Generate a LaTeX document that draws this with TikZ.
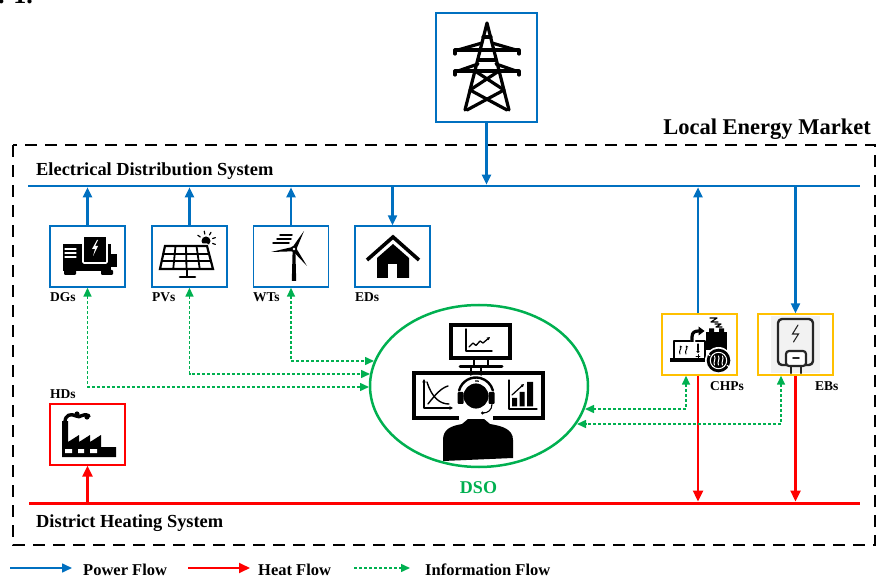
\documentclass[tikz,border=0pt]{standalone}
\usepackage{fontspec}
\setmainfont{Liberation Serif}
\usetikzlibrary{arrows.meta,calc,shapes.geometric}

\definecolor{powerblue}{HTML}{0070C0}
\definecolor{heatred}{HTML}{FF0000}
\definecolor{infogreen}{HTML}{00B050}
\definecolor{chpgold}{HTML}{FFC000}

\tikzset{
  unitbox/.style={minimum width=75pt, minimum height=61pt, inner sep=0pt, line width=1.4pt},
  elecbox/.style={unitbox, draw=powerblue},
  heatbox/.style={unitbox, draw=heatred},
  cogenbox/.style={unitbox, draw=chpgold},
  powerline/.style={draw=powerblue, line width=2.2pt, -{Triangle[length=10pt,width=9pt]}},
  heatline/.style={draw=heatred, line width=2.4pt, -{Triangle[length=11pt,width=10pt]}},
  infotips/.style={{Triangle[length=9pt,width=8pt]}-{Triangle[length=9pt,width=8pt]}},
  infoline/.style={draw=infogreen, line width=1.5pt, dash pattern=on 3pt off 2pt},
  unitlabel/.style={font=\fontsize{13.5}{15}\selectfont\bfseries, inner sep=0pt, anchor=base west},
  syslabel/.style={font=\fontsize{18.4}{20}\selectfont\bfseries, inner sep=0pt, anchor=base west},
  keylabel/.style={font=\fontsize{16.5}{18}\selectfont\bfseries, inner sep=0pt, anchor=base west},
  glyph/.style={line join=round, line cap=round}
}

\begin{document}
\begin{tikzpicture}[x=1pt, y=-1pt]
\useasboundingbox (0,0) rectangle (876,577);

% caption fragment along the top edge
\node[font=\fontsize{26}{28}\selectfont\bfseries, inner sep=0pt, anchor=base east] (figref) at (33,3.5) {Fig. 1.};

% ---------- market boundary ----------
\draw[line width=1.8pt, dash pattern=on 12pt off 8pt] (13,145) rectangle (875,545);
\node[font=\fontsize{22.5}{24}\selectfont\bfseries, inner sep=0pt, anchor=base east] (lemlabel) at (871,135) {Local Energy Market};

% ---------- buses ----------
\coordinate (eL) at (28,186);
\coordinate (eR) at (860,186);
\coordinate (hL) at (29,503);
\coordinate (hR) at (860,503);
\draw[powerblue, line width=2.6pt] (eL) -- (eR);
\draw[heatred, line width=3pt] (hL) -- (hR);
\node[syslabel] (edslabel) at (36,176) {Electrical Distribution System};
\node[syslabel] (dhslabel) at (36,527) {District Heating System};

% ---------- unit boxes ----------
\node[elecbox, minimum width=101pt, minimum height=109pt, line width=1.2pt] (tower) at (486.5,67.5) {};
\node[elecbox] (dg) at (87.5,256.5) {};
\node[elecbox] (pv) at (189.5,256.5) {};
\node[elecbox] (wt) at (291,256.5) {};
\node[elecbox] (ed) at (392.5,256.5) {};
\node[cogenbox] (chp) at (699.5,344.5) {};
\node[cogenbox] (eb) at (795.5,344.5) {};
\node[heatbox] (hd) at (87.5,434.5) {};

\node[unitlabel] (dglabel) at (50,302) {DGs};
\node[unitlabel] (pvlabel) at (152,302) {PVs};
\node[unitlabel] (wtlabel) at (253,302) {WTs};
\node[unitlabel] (edlabel) at (355,302) {EDs};
\node[unitlabel] (hdlabel) at (50,399) {HDs};
\node[unitlabel] (chplabel) at (710,391) {CHPs};
\node[unitlabel] (eblabel) at (815,391) {EBs};

% ---------- DSO ----------
\node[draw=infogreen, line width=2.5pt, ellipse, minimum width=218pt, minimum height=162pt, inner sep=0pt] (dso) at (479,386) {};
\node[font=\fontsize{18}{20}\selectfont\bfseries, text=infogreen, inner sep=0pt, anchor=base] (dsolabel) at (478.5,493) {DSO};

% ---------- power flows ----------
\draw[powerline, shorten >=1.3pt] (tower.south) -- (tower.south |- eL);
\draw[powerline, shorten >=1.3pt] (dg.north) -- (dg.north |- eL);
\draw[powerline, shorten >=1.3pt] (pv.north) -- (pv.north |- eL);
\draw[powerline, shorten >=1.3pt] (wt.north) -- (wt.north |- eL);
\draw[powerline] (ed.north |- eL) -- (ed.north);
\draw[powerline, shorten >=1.3pt] ([xshift=-1.5pt]chp.north) -- ([xshift=-1.5pt]chp.north |- eL);
\draw[powerline] (eb.north |- eL) -- (eb.north);

% ---------- heat flows ----------
\draw[heatline, shorten >=1.5pt] ([xshift=-1.5pt]chp.south) -- ([xshift=-1.5pt]chp.south |- hL);
\draw[heatline, shorten >=1.5pt] (eb.south) -- (eb.south |- hL);
\draw[heatline] (hd.south |- hL) -- (hd.south);

% ---------- information flows ----------
\coordinate (dsoDG) at (369,387);
\coordinate (dsoPV) at (370,374);
\coordinate (dsoWT) at (374,361);
\coordinate (dsoCHP) at (585,409);
\coordinate (dsoEB) at (577,424);
\draw[infoline, infotips] (dg.south) -- (dg.south |- dsoDG) -- (dsoDG);
\draw[infoline, infotips] (pv.south) -- (pv.south |- dsoPV) -- (dsoPV);
\draw[infoline, infotips] (wt.south) -- (wt.south |- dsoWT) -- (dsoWT);
\draw[infoline, infotips] ([xshift=-13.5pt]chp.south) -- ([xshift=-13.5pt]chp.south |- dsoCHP) -- (dsoCHP);
\draw[infoline, infotips] ([xshift=-14.5pt]eb.south) -- ([xshift=-14.5pt]eb.south |- dsoEB) -- (dsoEB);

% ================= icons =================
% transmission tower
\begin{scope}[glyph, line width=3.2pt]
  \draw (465,110) -- (487,23) -- (509,110);
  \draw (483,37) -- (491,37);
  \draw (455,54) -- (455,50) -- (519,50) -- (519,54);
  \draw (458,50) -- (482,43);  \draw (516,50) -- (492,43);
  \draw (478,60) -- (496,60);
  \draw (455,75) -- (455,71) -- (519,71) -- (519,75);
  \draw (458,71) -- (478,64);  \draw (516,71) -- (496,64);
  \draw (475,71) -- (504,90) -- (467,110);
  \draw (499,71) -- (470,90) -- (507,110);
\end{scope}

% diesel generator
\begin{scope}[glyph]
  \fill (63,244) rectangle (111,271);
  \fill (110,254) rectangle (117,267);
  \fill[rounded corners=1pt] (64,270) rectangle (76,275);
  \fill[rounded corners=1pt] (101,270) rectangle (113,275);
  \draw[white, line width=1.2pt] (65,249) -- (76,249) (65,253) -- (76,253) (65,257) -- (76,257);
  \filldraw[draw=white, line width=1.6pt, rounded corners=1pt] (83,236) rectangle (107,263);
  \fill[white] (97,240) -- (92,249) -- (95,249) -- (93,256) -- (98,246) -- (95,246) -- (98,240) -- cycle;
\end{scope}

% solar panel with sun
\begin{scope}[glyph]
  \fill (206,241) circle (4.5);
  \foreach \a in {20,-20,-60,-100,-145}
    \draw[line width=1.2pt] ($(206,241)+(\a:7)$) -- ($(206,241)+(\a:10)$);
  \draw[white, line width=5pt] (165,246) -- (207,246) -- (213,269) -- (160,269) -- cycle;
  \filldraw[fill=white, line width=2.2pt, line join=miter] (165,246) -- (207,246) -- (213,269) -- (160,269) -- cycle;
  \draw[line width=1.8pt] (163.3,253.7) -- (209,253.7) (161.7,261.3) -- (211,261.3);
  \draw[line width=1.8pt] (175.5,246) -- (173.25,269) (186,246) -- (186.5,269) (196.5,246) -- (199.75,269);
  \draw[line width=2.6pt, line cap=butt] (187,269) -- (187,277);
  \draw[line width=2.6pt] (180,277) -- (195,277);
\end{scope}

% wind turbine
\begin{scope}[glyph]
  \coordinate (hub) at (294,249);
  \fill (292.6,251) -- (295.4,251) -- (296.2,281) -- (291.8,281) -- cycle;
  \foreach \tip in {(304,231),(271,252),(307,266)}
    \fill ($(hub)!2.3pt!90:\tip$) -- \tip -- ($(hub)!2.3pt!-90:\tip$) -- cycle;
  \fill (hub) circle (3.2);
  \fill[white] (hub) circle (1.4);
  \draw[line width=1.5pt] (280,235) -- (292,235) (277,239) -- (291,239) (273,243) -- (289,243);
\end{scope}

% dwelling
\begin{scope}[glyph]
  \draw[line width=3.6pt, line join=miter, line cap=butt] (367,260) -- (393,237) -- (419,260);
  \fill (377,258) -- (393,244) -- (409,258) -- (409,278) -- (377,278) -- cycle;
  \fill[white] (388,264) rectangle (397,278.5);
\end{scope}

% factory
\begin{scope}[glyph]
  \fill (62,457) -- (62,421) -- (68,421) -- (68,442) -- (79,435) -- (79,442) -- (90,435) -- (90,442)
        -- (101,435) -- (101,447) -- (116,447) -- (116,457) -- cycle;
  \draw[line width=3.4pt] (65,422) .. controls (65,415) and (71,413) .. (76,416)
        .. controls (80,419) and (83,412) .. (89,416);
  \fill (77,414) circle (2.6);
  \fill (87,417) circle (2.6);
  \fill[white] (65,449) rectangle (72,453) (78,449) rectangle (84,453) (90,449) rectangle (97,453);
\end{scope}

% combined heat and power unit
\begin{scope}[glyph]
  \draw[line width=2.4pt] (674,359) -- (674,341) -- (690,341);
  \draw[line width=2.4pt] (696,341) -- (705,341) -- (705,359);
  \draw[line width=3.2pt, line cap=butt] (670,360) -- (709,360);
  \draw[line width=3.2pt, line cap=butt] (692,342) -- (692,337) .. controls (692,332) and (695,331) .. (699,331);
  \fill (698.5,326.5) -- (704.5,331) -- (698.5,335.5) -- cycle;
  \fill (706,332) rectangle (727,350);
  \fill (709,328.5) rectangle (714,332.5) (719,328.5) rectangle (724,332.5);
  \draw[line width=1.2pt] (710,318) -- (717,318) -- (711,322) -- (718,322);
  \draw[line width=1.2pt] (715,324) -- (721,324) -- (716,327) -- (722,327);
  \foreach \x in {680,686}
    \draw[line width=1pt, -{Stealth[length=2.5pt,width=2.8pt]}] (\x,354) .. controls (\x-1.8,351) and (\x+1.8,349) .. (\x,345.5);
  \draw[line width=1.2pt] (698,344) -- (698,350);
  \fill (698,351.5) circle (1.7);
  \draw[line width=0.9pt] (696,356.5) -- (700,356.5) (698,354.5) -- (698,358.5);
  \fill[white] (718.5,360.5) circle (13.5);
  \fill (718.5,360.5) circle (11.8);
  \draw[white, line width=1pt] (718.5,360.5) circle (8.2);
  \foreach \x in {714.5,718.5,722.5}
    \draw[white, line width=1pt] (\x,365) .. controls (\x-1.8,362.5) and (\x+1.8,359) .. (\x,356);
  \draw[white, line width=1.1pt] ($(718.5,360.5)+(-150:10)$) -- ($(718.5,360.5)+(-150:12)$);
  \draw[white, line width=1.1pt] ($(718.5,360.5)+(30:10)$) -- ($(718.5,360.5)+(30:12)$);
\end{scope}

% electric boiler
\begin{scope}[glyph]
  \fill[black!5] (771,316) rectangle (820,373);
  \draw[black!85, line width=2.4pt, rounded corners=4pt] (778,319) rectangle (813,365);
  \draw[black!85, line width=1.1pt, line join=miter] (798,325) -- (792.5,334) -- (798.5,334) -- (793.5,342);
  \draw[black!85, line width=2.2pt] (791,366) -- (791,373) (801,366) -- (801,373);
  \filldraw[fill=white, draw=black!85, line width=2.2pt, rounded corners=3pt] (786,351) rectangle (806,366);
  \draw[black!85, line width=1.8pt] (793,358) -- (799,358);
\end{scope}

% system operator at the control desk
\begin{scope}[glyph]
  % upper screen
  \draw[line width=3.6pt, line join=miter] (451,325) rectangle (510,358);
  \draw[line width=1.4pt] (466,329) -- (466,351) -- (492,351);
  \draw[line width=1.3pt, -{Triangle[length=3pt,width=3pt]}] (469,347) -- (473,343) -- (476,345.5) -- (480,341)
        -- (483,343) -- (490,337);
  \draw[line width=2.6pt, line cap=butt] (474,359) -- (474,366) (488,359) -- (488,366);
  \draw[line width=3pt] (460,367) -- (502,367);
  % lower screens
  \draw[line width=3.6pt, line join=miter] (414,373) rectangle (477,418);
  \draw[line width=3.6pt, line join=miter] (477,373) rectangle (543,418);
  \draw[line width=1.4pt, {Triangle[length=3.5pt,width=3.5pt]}-{Triangle[length=3.5pt,width=3.5pt]}]
        (424,379) -- (424,408) -- (453,408);
  \draw[line width=1.4pt] (427,382) .. controls (432,398) and (440,404) .. (449,404);
  \draw[line width=1.4pt] (428,404) .. controls (435,395) and (441,388) .. (448,386);
  \draw[line width=1.3pt] (509,380) -- (509,409) -- (537,409);
  \fill (512,398) rectangle (517,406.5) (519.5,392) rectangle (524.5,406.5) (527,382) rectangle (533,406.5);
  \draw[line width=1.2pt, -{Triangle[length=3pt,width=3pt]}] (512,395) -- (524,384);
  % operator
  \fill[white] (459,386) rectangle (493,421);
  \draw[line width=2.6pt, line cap=butt] (471,367) -- (471,376) (481,367) -- (481,376);
  \draw[white, line width=5.5pt] (476,395) ++(195:17.5) arc (195:345:17.5);
  \draw[line width=2.4pt] (476,395) ++(195:17.5) arc (195:345:17.5);
  \filldraw[draw=white, line width=1.8pt] (476,396) circle (13.5);
  \fill[rounded corners=1pt] (457.5,392) rectangle (463.5,404) (488.5,392) rectangle (494.5,404);
  \draw[line width=1.1pt] (492,404) .. controls (492,410) and (488,413) .. (483,413);
  \fill (482.5,413) circle (1.6);
  \fill (443,461) -- (443,440) .. controls (443,429) and (451,426) .. (462,424) -- (468,419) -- (484,419)
        -- (490,424) .. controls (502,426) and (513,429) .. (513,440) -- (513,458) -- cycle;
\end{scope}

% ---------- legend ----------
\coordinate (kp1) at (10,568);  \coordinate (kp2) at (72,568);
\coordinate (kh1) at (188,568); \coordinate (kh2) at (250,568);
\coordinate (ki1) at (354,568); \coordinate (ki2) at (410,568);
\draw[powerline, line width=1.6pt] (kp1) -- (kp2);
\draw[heatline, line width=1.8pt] (kh1) -- (kh2);
\draw[infoline, -{Triangle[length=9pt,width=8pt]}] (ki1) -- (ki2);
\node[keylabel] (kplabel) at (83,575) {Power Flow};
\node[keylabel] (khlabel) at (258,575) {Heat Flow};
\node[keylabel] (kilabel) at (425,575) {Information Flow};
\end{tikzpicture}
\end{document}
